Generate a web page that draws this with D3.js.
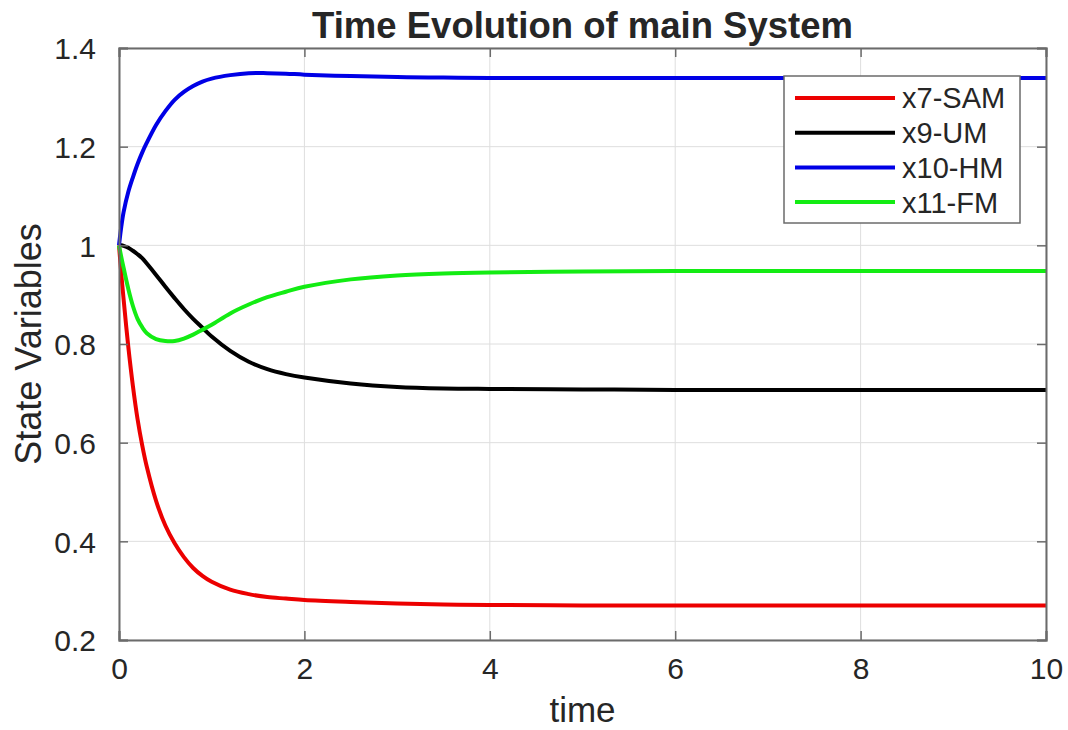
<!DOCTYPE html>
<html>
<head>
<meta charset="utf-8">
<script src="https://cdn.jsdelivr.net/npm/d3@7"></script>
<style>
  html, body { margin: 0; padding: 0; background: #fff; }
  text { font-family: "Liberation Sans", Arial, sans-serif; fill: #262626; }
</style>
</head>
<body>
<div id="chart"></div>
<script>

const WIDTH = 1068;
const HEIGHT = 730;

// Insets of the axes box.
const INSETS = {'left': 119, 'right': 22, 'top': 48, 'bottom': 90};

// Data.
const TIME = [0, 0.025, 0.05, 0.1, 0.15, 0.2, 0.25, 0.3, 0.4, 0.5, 0.6, 0.7, 0.8, 0.9, 1.0,
              1.2, 1.4, 1.6, 1.8, 2.0, 2.5, 3.0, 3.5, 4.0, 5.0, 6.0, 7.0, 8.0, 9.0, 10.0];

const X7_SAM = [1.0, 0.942, 0.890, 0.795, 0.715, 0.648, 0.595, 0.551, 0.482, 0.432, 0.396, 0.368, 0.346, 0.330, 0.318,
                0.302, 0.293, 0.287, 0.284, 0.281, 0.277, 0.274, 0.272, 0.271, 0.270, 0.270, 0.270, 0.270, 0.270, 0.270];

const X9_UM = [1.0, 1.0, 0.999, 0.995, 0.989, 0.982, 0.974, 0.963, 0.940, 0.916, 0.893, 0.871, 0.851, 0.833, 0.815,
               0.786, 0.764, 0.749, 0.739, 0.732, 0.720, 0.713, 0.710, 0.709, 0.708, 0.707, 0.707, 0.707, 0.707, 0.707];

const X10_HM = [1.0, 1.038, 1.068, 1.108, 1.138, 1.165, 1.188, 1.208, 1.244, 1.272, 1.295, 1.311, 1.323, 1.332, 1.338,
                1.345, 1.349, 1.349, 1.348, 1.346, 1.343, 1.341, 1.340, 1.339, 1.339, 1.339, 1.339, 1.339, 1.339, 1.339];

const X11_FM = [1.0, 0.976, 0.954, 0.912, 0.877, 0.851, 0.834, 0.822, 0.810, 0.806, 0.806, 0.811, 0.819, 0.829, 0.839,
                0.862, 0.880, 0.895, 0.906, 0.916, 0.931, 0.939, 0.943, 0.945, 0.947, 0.948, 0.948, 0.948, 0.948, 0.948];

const SERIES_NAMES = ['x7-SAM', 'x9-UM', 'x10-HM', 'x11-FM'];
const SERIES_VALUES = [X7_SAM, X9_UM, X10_HM, X11_FM];
const SERIES_COLORS = ['#ec0000', '#000000', '#0000e6', '#13ec13'];

const X_TICKS = [0, 2, 4, 6, 8, 10];
const Y_TICKS = [0.2, 0.4, 0.6, 0.8, 1, 1.2, 1.4];

const TITLE = 'Time Evolution of main System';
const X_LABEL = 'time';
const Y_LABEL = 'State Variables';


window.onload = function() {

    var w = WIDTH - INSETS.left - INSETS.right;
    var h = HEIGHT - INSETS.top - INSETS.bottom;

    var svg = d3.select("#chart").append("svg")
                .attr("width", WIDTH)
                .attr("height", HEIGHT);

    var canvas = svg.append("g")
                    .attr("transform", "translate(" + INSETS.left + "," + INSETS.top + ")");

    var x = d3.scaleLinear().domain([0, 10]).range([0, w]);
    var y = d3.scaleLinear().domain([0.2, 1.4]).range([h, 0]);

    // grid
    var grid = canvas.append("g").attr("class", "grid");
    grid.selectAll("line.gx")
        .data(X_TICKS)
        .enter()
        .append("line")
        .attr("x1", d => x(d)).attr("x2", d => x(d))
        .attr("y1", 0).attr("y2", h);
    grid.selectAll("line.gy")
        .data(Y_TICKS)
        .enter()
        .append("line")
        .attr("x1", 0).attr("x2", w)
        .attr("y1", d => y(d)).attr("y2", d => y(d));
    grid.selectAll("line")
        .attr("stroke", "#dedede")
        .attr("stroke-width", 1);

    // lines
    var line = d3.line()
                 .x((d, i) => x(TIME[i]))
                 .y(d => y(d))
                 .curve(d3.curveCatmullRom.alpha(0.5));

    canvas.selectAll("path.series")
          .data(SERIES_VALUES)
          .enter()
          .append("path")
          .attr("class", "series")
          .attr("d", line)
          .attr("fill", "none")
          .attr("stroke", (d, i) => SERIES_COLORS[i])
          .attr("stroke-width", 4)
          .attr("stroke-linejoin", "round");

    // axes, ticks inside (box on)
    var bottom = canvas.append("g")
                       .attr("transform", "translate(0," + h + ")")
                       .call(d3.axisBottom(x).tickValues(X_TICKS).tickSize(-9).tickPadding(18)
                               .tickFormat(d3.format("d")));
    var top = canvas.append("g")
                    .call(d3.axisTop(x).tickValues(X_TICKS).tickSize(-9).tickFormat(""));
    var left = canvas.append("g")
                     .call(d3.axisLeft(y).tickValues(Y_TICKS).tickSize(-9).tickPadding(23)
                             .tickFormat(d => String(d)));
    var right = canvas.append("g")
                      .attr("transform", "translate(" + w + ",0)")
                      .call(d3.axisRight(y).tickValues(Y_TICKS).tickSize(-9).tickFormat(""));

    [bottom, top, left, right].forEach(function(a) {
        a.select(".domain").attr("stroke", "#6b6b6b").attr("stroke-width", 2);
        a.selectAll(".tick line").attr("stroke", "#6b6b6b").attr("stroke-width", 1.5);
        a.selectAll(".tick text").attr("font-size", 30).attr("fill", "#262626")
         .attr("font-family", '"Liberation Sans", Arial, sans-serif');
    });
    bottom.selectAll(".tick text").attr("dy", "0.71em");
    left.selectAll(".tick text").attr("dy", "0.36em");

    // labels
    svg.append("text")
       .attr("x", INSETS.left + w / 2)
       .attr("y", 38)
       .attr("text-anchor", "middle")
       .attr("font-size", 36.5)
       .attr("font-weight", "bold")
       .text(TITLE);

    svg.append("text")
       .attr("x", INSETS.left + w / 2)
       .attr("y", 722)
       .attr("text-anchor", "middle")
       .attr("font-size", 35)
       .text(X_LABEL);

    svg.append("text")
       .attr("transform", "translate(41," + (INSETS.top + h / 2) + ") rotate(-90)")
       .attr("text-anchor", "middle")
       .attr("font-size", 36)
       .text(Y_LABEL);

    // legend
    var legend = svg.append("g").attr("transform", "translate(784,76)");
    legend.append("rect")
          .attr("width", 236).attr("height", 147)
          .attr("fill", "#fff")
          .attr("stroke", "#6b6b6b")
          .attr("stroke-width", 1.5);

    var rows = legend.selectAll("g.row")
                     .data(SERIES_NAMES)
                     .enter()
                     .append("g")
                     .attr("class", "row")
                     .attr("transform", (d, i) => "translate(0," + (22 + i * 34.7) + ")");
    rows.append("line")
        .attr("x1", 11).attr("x2", 111)
        .attr("stroke", (d, i) => SERIES_COLORS[i])
        .attr("stroke-width", 4);
    rows.append("text")
        .attr("x", 118)
        .attr("dy", "0.36em")
        .attr("font-size", 29)
        .text(d => d);
};

</script>
</body>
</html>
